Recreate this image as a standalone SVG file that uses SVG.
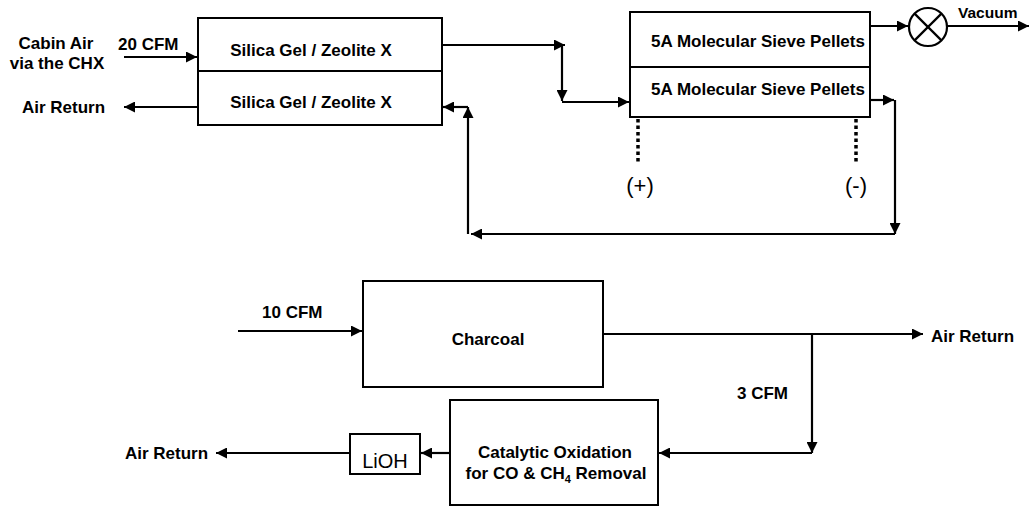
<svg xmlns="http://www.w3.org/2000/svg" width="1032" height="507" viewBox="0 0 1032 507">
<style>
.t{font-family:"Liberation Sans",Arial,sans-serif;font-size:17px;font-weight:bold;fill:#000}
.box{fill:#fff;stroke:#000;stroke-width:2}
.ln{fill:none;stroke:#000;stroke-width:2.2}
.arr{fill:none;stroke:#000;stroke-width:2.2;marker-end:url(#ah)}
.dot{fill:none;stroke:#000;stroke-width:3.5;stroke-dasharray:3.5 3}
.pm{font-family:"Liberation Sans",Arial,sans-serif;font-size:22px;fill:#000}
</style>
<defs>
<marker id="ah" viewBox="0 0 10 10" refX="10" refY="5" markerWidth="13" markerHeight="11" markerUnits="userSpaceOnUse" orient="auto">
<path d="M0,0 L10,5 L0,10 z" fill="#000"/>
</marker>
</defs>
<rect width="1032" height="507" fill="#fff"/>

<g id="connectors">
<line class="arr" x1="124" y1="57" x2="197" y2="57"/>
<line class="arr" x1="198" y1="107" x2="124" y2="107"/>
<line class="arr" x1="442" y1="45" x2="565" y2="45"/>
<line class="arr" x1="562" y1="45" x2="562" y2="101"/>
<line class="arr" x1="562" y1="102" x2="629" y2="102"/>
<line class="arr" x1="870" y1="26" x2="908" y2="26"/>
<line class="arr" x1="947" y1="26" x2="1029" y2="26"/>
<line class="arr" x1="870" y1="100" x2="894" y2="100"/>
<line class="arr" x1="895" y1="100" x2="895" y2="234"/>
<line class="arr" x1="895" y1="234" x2="471" y2="234"/>
<line class="arr" x1="468" y1="234" x2="468" y2="107"/>
<line class="arr" x1="468" y1="107" x2="443" y2="107"/>
<line class="dot" x1="638" y1="119" x2="638" y2="163"/>
<line class="dot" x1="856" y1="119" x2="856" y2="163"/>
<line class="arr" x1="238" y1="331" x2="362" y2="331"/>
<line class="arr" x1="603" y1="334" x2="923" y2="334"/>
<line class="arr" x1="812" y1="334" x2="812" y2="453"/>
<line class="arr" x1="812" y1="453" x2="659" y2="453"/>
<line class="arr" x1="450" y1="453" x2="421" y2="453"/>
<line class="arr" x1="350" y1="453" x2="216" y2="453"/>
</g>

<g id="labels">
<text class="t" x="56" y="49" text-anchor="middle">Cabin Air</text>
<text class="t" x="57" y="69" text-anchor="middle">via the CHX</text>
<text class="t" x="118" y="50">20 CFM</text>
<text class="t" x="22" y="113">Air Return</text>
<text class="t" x="958" y="18" style="font-size:15.5px">Vacuum</text>
<text class="pm" x="640" y="193" text-anchor="middle">(+)</text>
<text class="pm" x="856" y="193" text-anchor="middle">(-)</text>
<text class="t" x="262" y="318">10 CFM</text>
<text class="t" x="931" y="342">Air Return</text>
<text class="t" x="737" y="399">3 CFM</text>
<text class="t" x="125" y="459">Air Return</text>
</g>

<g id="silica">
<rect class="box" x="198" y="18" width="244" height="107"/>
<line class="ln" x1="198" y1="71" x2="442" y2="71"/>
<text class="t" x="311" y="56" text-anchor="middle">Silica Gel / Zeolite X</text>
<text class="t" x="311" y="108" text-anchor="middle">Silica Gel / Zeolite X</text>
</g>

<g id="sieve">
<rect class="box" x="630" y="12" width="240" height="105"/>
<line class="ln" x1="630" y1="67" x2="870" y2="67"/>
<text class="t" x="758" y="47" text-anchor="middle">5A Molecular Sieve Pellets</text>
<text class="t" x="758" y="95" text-anchor="middle">5A Molecular Sieve Pellets</text>
</g>

<g id="valve">
<circle cx="928" cy="27" r="19" fill="#fff" stroke="#000" stroke-width="2.2"/>
<line class="ln" x1="914.6" y1="13.6" x2="941.4" y2="40.4"/>
<line class="ln" x1="941.4" y1="13.6" x2="914.6" y2="40.4"/>
</g>

<g id="charcoal">
<rect class="box" x="363" y="281" width="240" height="106"/>
<text class="t" x="488" y="345" text-anchor="middle">Charcoal</text>
</g>

<g id="catalytic">
<rect class="box" x="450" y="400" width="208" height="105"/>
<text class="t" x="555" y="458" text-anchor="middle">Catalytic Oxidation</text>
<text class="t" x="556" y="479" text-anchor="middle">for CO &amp; CH<tspan dy="4" style="font-size:11px">4</tspan><tspan dy="-4"> Removal</tspan></text>
</g>

<g id="lioh">
<rect class="box" x="350" y="434" width="70" height="40"/>
<text x="385" y="468" text-anchor="middle" style="font-family:'Liberation Sans',Arial,sans-serif;font-size:20px">LiOH</text>
</g>
</svg>
